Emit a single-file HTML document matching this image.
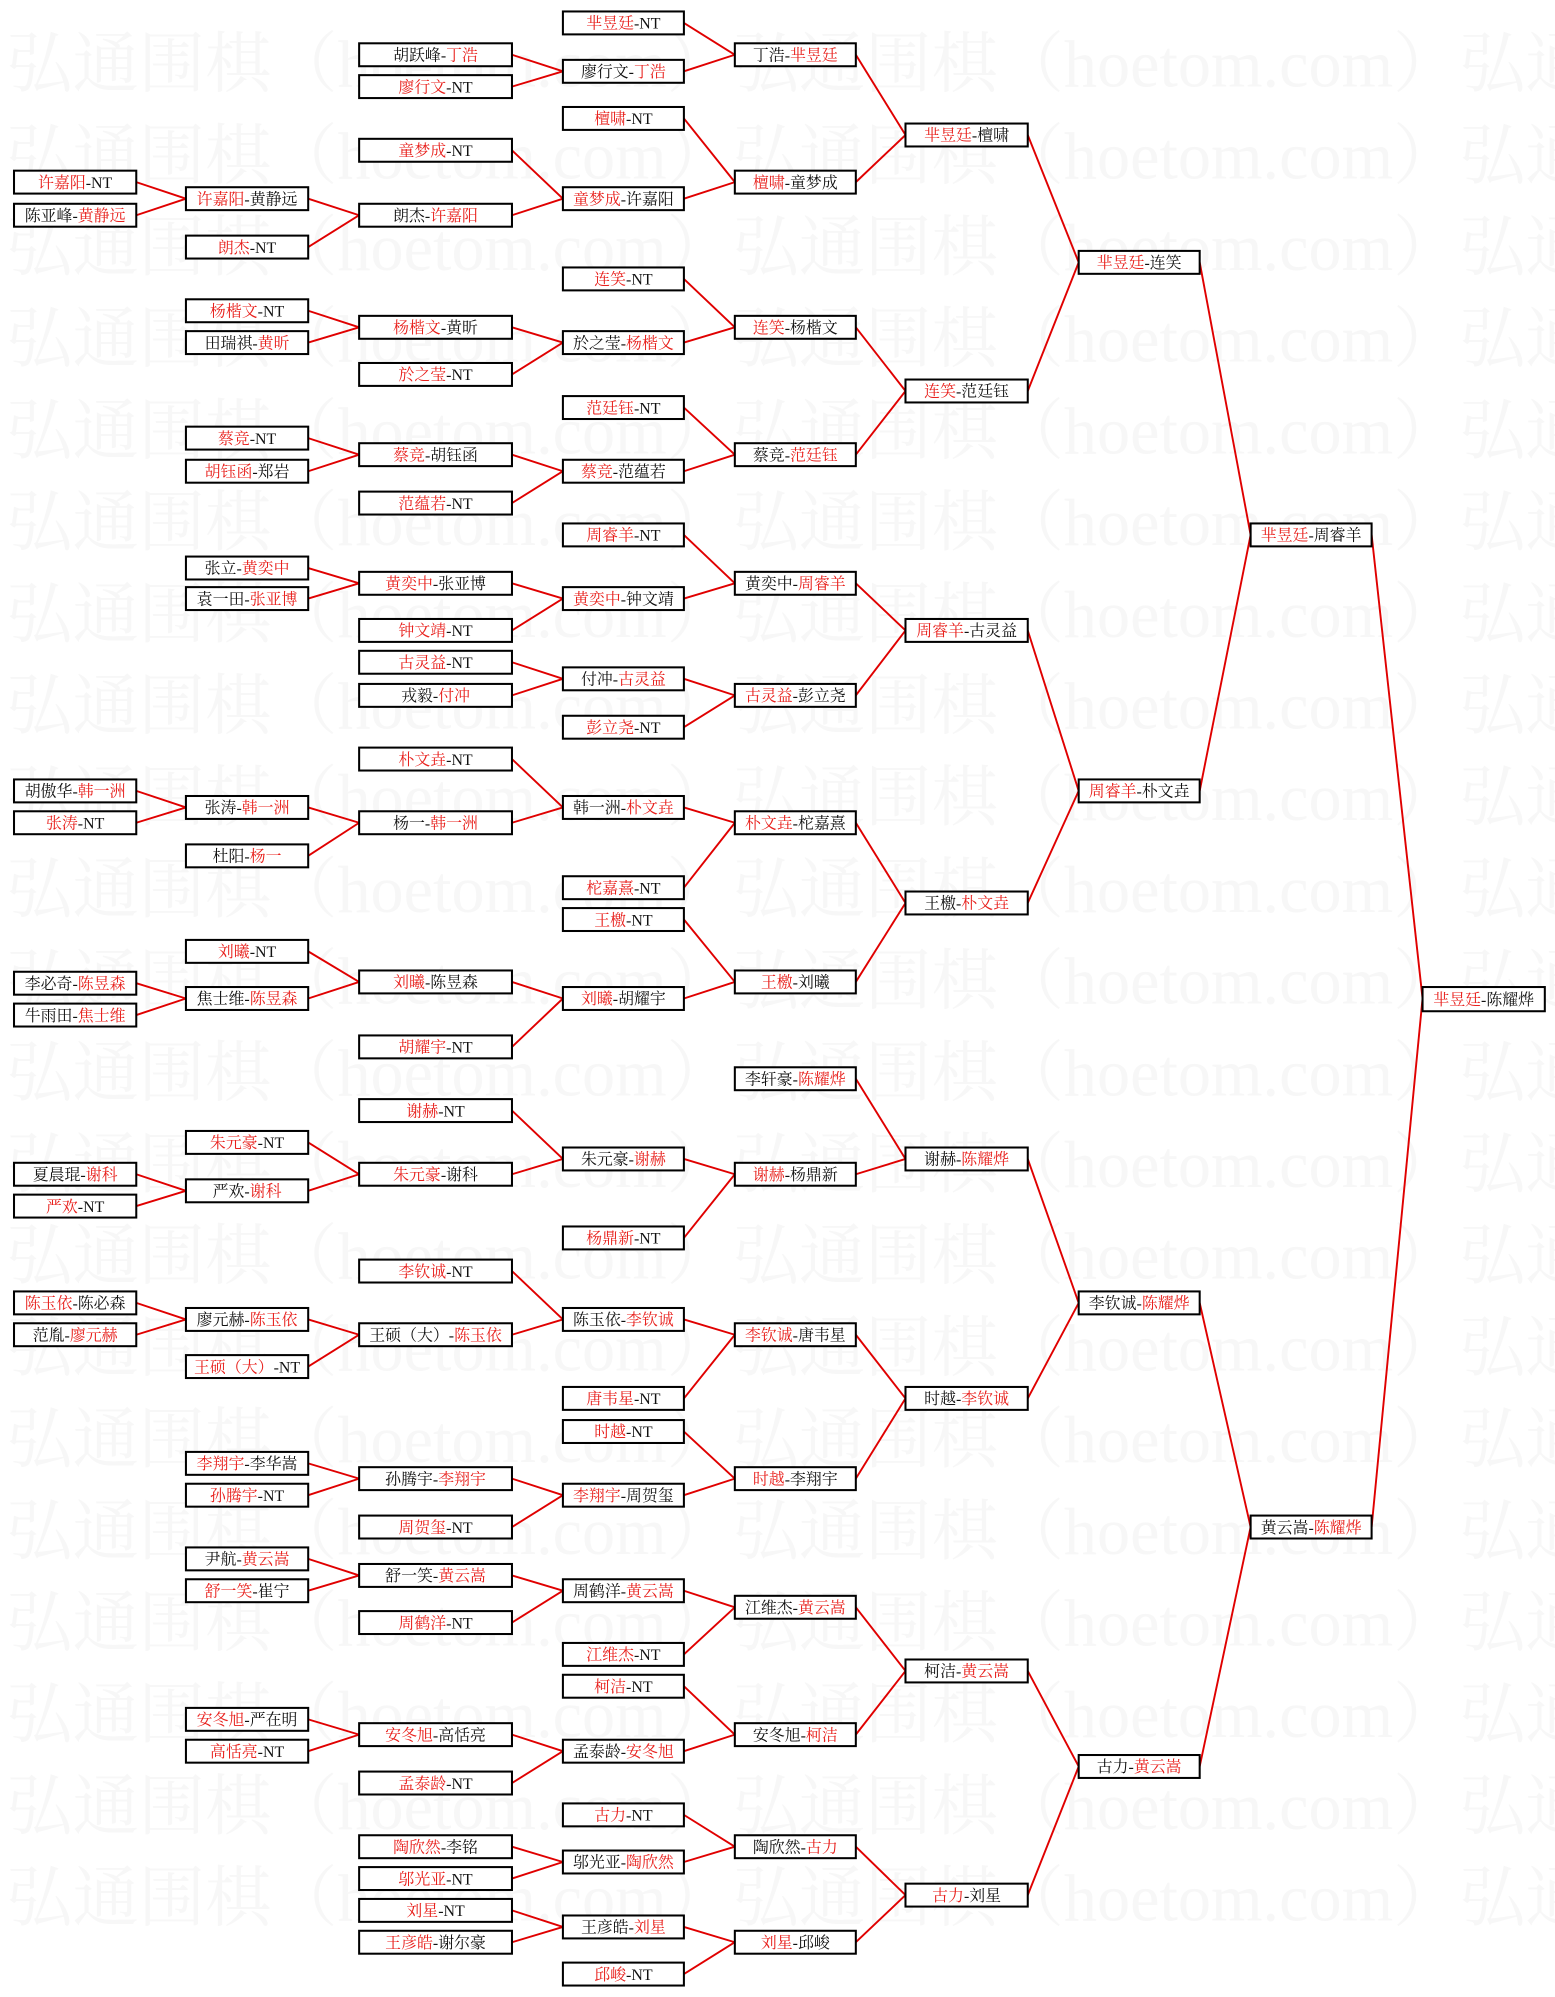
<!DOCTYPE html>
<html><head><meta charset="utf-8"><style>
html,body{margin:0;padding:0;background:#fff;}
svg{display:block;}
.b rect{fill:#fff;stroke:#000;stroke-width:1.6;}
text{font-family:"Liberation Serif","Noto Serif CJK SC","Noto Sans CJK SC",serif;font-size:12.5px;fill:#111;}
.r{fill:#e8201c;}
.wm{font-size:52px;fill:#f7f7f7;font-family:"Liberation Serif","Noto Serif CJK SC",serif;}
line{stroke:#e00000;stroke-width:1.5;}
</style></head><body>
<svg width="1555" height="1997" viewBox="0 0 1221 1568" preserveAspectRatio="none" xmlns="http://www.w3.org/2000/svg">
<g class="wm">
<text class="wm" x="5" y="68">弘通围棋（hoetom.com）弘通围棋（hoetom.com）弘通围棋</text>
<text class="wm" x="5" y="140">弘通围棋（hoetom.com）弘通围棋（hoetom.com）弘通围棋</text>
<text class="wm" x="5" y="212">弘通围棋（hoetom.com）弘通围棋（hoetom.com）弘通围棋</text>
<text class="wm" x="5" y="284">弘通围棋（hoetom.com）弘通围棋（hoetom.com）弘通围棋</text>
<text class="wm" x="5" y="356">弘通围棋（hoetom.com）弘通围棋（hoetom.com）弘通围棋</text>
<text class="wm" x="5" y="428">弘通围棋（hoetom.com）弘通围棋（hoetom.com）弘通围棋</text>
<text class="wm" x="5" y="500">弘通围棋（hoetom.com）弘通围棋（hoetom.com）弘通围棋</text>
<text class="wm" x="5" y="572">弘通围棋（hoetom.com）弘通围棋（hoetom.com）弘通围棋</text>
<text class="wm" x="5" y="644">弘通围棋（hoetom.com）弘通围棋（hoetom.com）弘通围棋</text>
<text class="wm" x="5" y="716">弘通围棋（hoetom.com）弘通围棋（hoetom.com）弘通围棋</text>
<text class="wm" x="5" y="788">弘通围棋（hoetom.com）弘通围棋（hoetom.com）弘通围棋</text>
<text class="wm" x="5" y="860">弘通围棋（hoetom.com）弘通围棋（hoetom.com）弘通围棋</text>
<text class="wm" x="5" y="932">弘通围棋（hoetom.com）弘通围棋（hoetom.com）弘通围棋</text>
<text class="wm" x="5" y="1004">弘通围棋（hoetom.com）弘通围棋（hoetom.com）弘通围棋</text>
<text class="wm" x="5" y="1076">弘通围棋（hoetom.com）弘通围棋（hoetom.com）弘通围棋</text>
<text class="wm" x="5" y="1148">弘通围棋（hoetom.com）弘通围棋（hoetom.com）弘通围棋</text>
<text class="wm" x="5" y="1220">弘通围棋（hoetom.com）弘通围棋（hoetom.com）弘通围棋</text>
<text class="wm" x="5" y="1292">弘通围棋（hoetom.com）弘通围棋（hoetom.com）弘通围棋</text>
<text class="wm" x="5" y="1364">弘通围棋（hoetom.com）弘通围棋（hoetom.com）弘通围棋</text>
<text class="wm" x="5" y="1436">弘通围棋（hoetom.com）弘通围棋（hoetom.com）弘通围棋</text>
<text class="wm" x="5" y="1508">弘通围棋（hoetom.com）弘通围棋（hoetom.com）弘通围棋</text>
</g>
<g>
<line x1="107" y1="143" x2="146" y2="156"/><line x1="107" y1="169" x2="146" y2="156"/>
<line x1="107" y1="621" x2="146" y2="634"/><line x1="107" y1="646" x2="146" y2="634"/>
<line x1="107" y1="772" x2="146" y2="784"/><line x1="107" y1="797" x2="146" y2="784"/>
<line x1="107" y1="922" x2="146" y2="935"/><line x1="107" y1="947" x2="146" y2="935"/>
<line x1="107" y1="1023" x2="146" y2="1036"/><line x1="107" y1="1048" x2="146" y2="1036"/>
<line x1="242" y1="156" x2="282" y2="169"/><line x1="242" y1="194" x2="282" y2="169"/>
<line x1="242" y1="244" x2="282" y2="257"/><line x1="242" y1="269" x2="282" y2="257"/>
<line x1="242" y1="344" x2="282" y2="357"/><line x1="242" y1="370" x2="282" y2="357"/>
<line x1="242" y1="446" x2="282" y2="458"/><line x1="242" y1="470" x2="282" y2="458"/>
<line x1="242" y1="634" x2="282" y2="646"/><line x1="242" y1="672" x2="282" y2="646"/>
<line x1="242" y1="747" x2="282" y2="771"/><line x1="242" y1="784" x2="282" y2="771"/>
<line x1="242" y1="897" x2="282" y2="922"/><line x1="242" y1="935" x2="282" y2="922"/>
<line x1="242" y1="1036" x2="282" y2="1048"/><line x1="242" y1="1073" x2="282" y2="1048"/>
<line x1="242" y1="1149" x2="282" y2="1161"/><line x1="242" y1="1174" x2="282" y2="1161"/>
<line x1="242" y1="1224" x2="282" y2="1237"/><line x1="242" y1="1249" x2="282" y2="1237"/>
<line x1="242" y1="1350" x2="282" y2="1362"/><line x1="242" y1="1375" x2="282" y2="1362"/>
<line x1="402" y1="43" x2="442" y2="56"/><line x1="402" y1="68" x2="442" y2="56"/>
<line x1="402" y1="118" x2="442" y2="156"/><line x1="402" y1="169" x2="442" y2="156"/>
<line x1="402" y1="257" x2="442" y2="269"/><line x1="402" y1="294" x2="442" y2="269"/>
<line x1="402" y1="357" x2="442" y2="370"/><line x1="402" y1="395" x2="442" y2="370"/>
<line x1="402" y1="458" x2="442" y2="470"/><line x1="402" y1="495" x2="442" y2="470"/>
<line x1="402" y1="520" x2="442" y2="533"/><line x1="402" y1="546" x2="442" y2="533"/>
<line x1="402" y1="596" x2="442" y2="634"/><line x1="402" y1="646" x2="442" y2="634"/>
<line x1="402" y1="771" x2="442" y2="784"/><line x1="402" y1="822" x2="442" y2="784"/>
<line x1="402" y1="872" x2="442" y2="910"/><line x1="402" y1="922" x2="442" y2="910"/>
<line x1="402" y1="998" x2="442" y2="1036"/><line x1="402" y1="1048" x2="442" y2="1036"/>
<line x1="402" y1="1161" x2="442" y2="1174"/><line x1="402" y1="1199" x2="442" y2="1174"/>
<line x1="402" y1="1237" x2="442" y2="1249"/><line x1="402" y1="1274" x2="442" y2="1249"/>
<line x1="402" y1="1362" x2="442" y2="1375"/><line x1="402" y1="1400" x2="442" y2="1375"/>
<line x1="402" y1="1450" x2="442" y2="1462"/><line x1="402" y1="1475" x2="442" y2="1462"/>
<line x1="402" y1="1500" x2="442" y2="1513"/><line x1="402" y1="1525" x2="442" y2="1513"/>
<line x1="537" y1="18" x2="577" y2="43"/><line x1="537" y1="56" x2="577" y2="43"/>
<line x1="537" y1="93" x2="577" y2="143"/><line x1="537" y1="156" x2="577" y2="143"/>
<line x1="537" y1="219" x2="577" y2="257"/><line x1="537" y1="269" x2="577" y2="257"/>
<line x1="537" y1="320" x2="577" y2="357"/><line x1="537" y1="370" x2="577" y2="357"/>
<line x1="537" y1="420" x2="577" y2="458"/><line x1="537" y1="470" x2="577" y2="458"/>
<line x1="537" y1="533" x2="577" y2="546"/><line x1="537" y1="571" x2="577" y2="546"/>
<line x1="537" y1="634" x2="577" y2="646"/><line x1="537" y1="697" x2="577" y2="646"/>
<line x1="537" y1="722" x2="577" y2="771"/><line x1="537" y1="784" x2="577" y2="771"/>
<line x1="537" y1="910" x2="577" y2="922"/><line x1="537" y1="972" x2="577" y2="922"/>
<line x1="537" y1="1036" x2="577" y2="1048"/><line x1="537" y1="1098" x2="577" y2="1048"/>
<line x1="537" y1="1124" x2="577" y2="1161"/><line x1="537" y1="1174" x2="577" y2="1161"/>
<line x1="537" y1="1249" x2="577" y2="1262"/><line x1="537" y1="1299" x2="577" y2="1262"/>
<line x1="537" y1="1324" x2="577" y2="1362"/><line x1="537" y1="1375" x2="577" y2="1362"/>
<line x1="537" y1="1425" x2="577" y2="1450"/><line x1="537" y1="1462" x2="577" y2="1450"/>
<line x1="537" y1="1513" x2="577" y2="1525"/><line x1="537" y1="1550" x2="577" y2="1525"/>
<line x1="672" y1="43" x2="711" y2="106"/><line x1="672" y1="143" x2="711" y2="106"/>
<line x1="672" y1="257" x2="711" y2="307"/><line x1="672" y1="357" x2="711" y2="307"/>
<line x1="672" y1="458" x2="711" y2="495"/><line x1="672" y1="546" x2="711" y2="495"/>
<line x1="672" y1="646" x2="711" y2="709"/><line x1="672" y1="771" x2="711" y2="709"/>
<line x1="672" y1="847" x2="711" y2="910"/><line x1="672" y1="922" x2="711" y2="910"/>
<line x1="672" y1="1048" x2="711" y2="1098"/><line x1="672" y1="1161" x2="711" y2="1098"/>
<line x1="672" y1="1262" x2="711" y2="1312"/><line x1="672" y1="1362" x2="711" y2="1312"/>
<line x1="672" y1="1450" x2="711" y2="1488"/><line x1="672" y1="1525" x2="711" y2="1488"/>
<line x1="807" y1="106" x2="847" y2="206"/><line x1="807" y1="307" x2="847" y2="206"/>
<line x1="807" y1="495" x2="847" y2="621"/><line x1="807" y1="709" x2="847" y2="621"/>
<line x1="807" y1="910" x2="847" y2="1023"/><line x1="807" y1="1098" x2="847" y2="1023"/>
<line x1="807" y1="1312" x2="847" y2="1387"/><line x1="807" y1="1488" x2="847" y2="1387"/>
<line x1="942" y1="206" x2="982" y2="420"/><line x1="942" y1="621" x2="982" y2="420"/>
<line x1="942" y1="1023" x2="982" y2="1199"/><line x1="942" y1="1387" x2="982" y2="1199"/>
<line x1="1077" y1="420" x2="1117" y2="784"/><line x1="1077" y1="1199" x2="1117" y2="784"/>
</g>

<g class="b">
<rect x="11" y="134" width="96" height="18"/><text x="59" y="147.5" text-anchor="middle"><tspan class="r">许嘉阳</tspan>-NT</text>
<rect x="11" y="160" width="96" height="18"/><text x="59" y="173.5" text-anchor="middle">陈亚峰-<tspan class="r">黄静远</tspan></text>
<rect x="11" y="612" width="96" height="18"/><text x="59" y="625.5" text-anchor="middle">胡傲华-<tspan class="r">韩一洲</tspan></text>
<rect x="11" y="637" width="96" height="18"/><text x="59" y="650.5" text-anchor="middle"><tspan class="r">张涛</tspan>-NT</text>
<rect x="11" y="763" width="96" height="18"/><text x="59" y="776.5" text-anchor="middle">李必奇-<tspan class="r">陈昱森</tspan></text>
<rect x="11" y="788" width="96" height="18"/><text x="59" y="801.5" text-anchor="middle">牛雨田-<tspan class="r">焦士维</tspan></text>
<rect x="11" y="913" width="96" height="18"/><text x="59" y="926.5" text-anchor="middle">夏晨琨-<tspan class="r">谢科</tspan></text>
<rect x="11" y="938" width="96" height="18"/><text x="59" y="951.5" text-anchor="middle"><tspan class="r">严欢</tspan>-NT</text>
<rect x="11" y="1014" width="96" height="18"/><text x="59" y="1027.5" text-anchor="middle"><tspan class="r">陈玉依</tspan>-陈必森</text>
<rect x="11" y="1039" width="96" height="18"/><text x="59" y="1052.5" text-anchor="middle">范胤-<tspan class="r">廖元赫</tspan></text>
</g>

<g class="b">
<rect x="146" y="147" width="96" height="18"/><text x="194" y="160.5" text-anchor="middle"><tspan class="r">许嘉阳</tspan>-黄静远</text>
<rect x="146" y="185" width="96" height="18"/><text x="194" y="198.5" text-anchor="middle"><tspan class="r">朗杰</tspan>-NT</text>
<rect x="146" y="235" width="96" height="18"/><text x="194" y="248.5" text-anchor="middle"><tspan class="r">杨楷文</tspan>-NT</text>
<rect x="146" y="260" width="96" height="18"/><text x="194" y="273.5" text-anchor="middle">田瑞祺-<tspan class="r">黄昕</tspan></text>
<rect x="146" y="335" width="96" height="18"/><text x="194" y="348.5" text-anchor="middle"><tspan class="r">蔡竞</tspan>-NT</text>
<rect x="146" y="361" width="96" height="18"/><text x="194" y="374.5" text-anchor="middle"><tspan class="r">胡钰函</tspan>-郑岩</text>
<rect x="146" y="437" width="96" height="18"/><text x="194" y="450.5" text-anchor="middle">张立-<tspan class="r">黄奕中</tspan></text>
<rect x="146" y="461" width="96" height="18"/><text x="194" y="474.5" text-anchor="middle">袁一田-<tspan class="r">张亚博</tspan></text>
<rect x="146" y="625" width="96" height="18"/><text x="194" y="638.5" text-anchor="middle">张涛-<tspan class="r">韩一洲</tspan></text>
<rect x="146" y="663" width="96" height="18"/><text x="194" y="676.5" text-anchor="middle">杜阳-<tspan class="r">杨一</tspan></text>
<rect x="146" y="738" width="96" height="18"/><text x="194" y="751.5" text-anchor="middle"><tspan class="r">刘曦</tspan>-NT</text>
<rect x="146" y="775" width="96" height="18"/><text x="194" y="788.5" text-anchor="middle">焦士维-<tspan class="r">陈昱森</tspan></text>
<rect x="146" y="888" width="96" height="18"/><text x="194" y="901.5" text-anchor="middle"><tspan class="r">朱元豪</tspan>-NT</text>
<rect x="146" y="926" width="96" height="18"/><text x="194" y="939.5" text-anchor="middle">严欢-<tspan class="r">谢科</tspan></text>
<rect x="146" y="1027" width="96" height="18"/><text x="194" y="1040.5" text-anchor="middle">廖元赫-<tspan class="r">陈玉依</tspan></text>
<rect x="146" y="1064" width="96" height="18"/><text x="194" y="1077.5" text-anchor="middle"><tspan class="r">王硕（大）</tspan>-NT</text>
<rect x="146" y="1140" width="96" height="18"/><text x="194" y="1153.5" text-anchor="middle"><tspan class="r">李翔宇</tspan>-李华嵩</text>
<rect x="146" y="1165" width="96" height="18"/><text x="194" y="1178.5" text-anchor="middle"><tspan class="r">孙腾宇</tspan>-NT</text>
<rect x="146" y="1215" width="96" height="18"/><text x="194" y="1228.5" text-anchor="middle">尹航-<tspan class="r">黄云嵩</tspan></text>
<rect x="146" y="1240" width="96" height="18"/><text x="194" y="1253.5" text-anchor="middle"><tspan class="r">舒一笑</tspan>-崔宁</text>
<rect x="146" y="1341" width="96" height="18"/><text x="194" y="1354.5" text-anchor="middle"><tspan class="r">安冬旭</tspan>-严在明</text>
<rect x="146" y="1366" width="96" height="18"/><text x="194" y="1379.5" text-anchor="middle"><tspan class="r">高恬亮</tspan>-NT</text>
</g>

<g class="b">
<rect x="282" y="34" width="120" height="18"/><text x="342" y="47.5" text-anchor="middle">胡跃峰-<tspan class="r">丁浩</tspan></text>
<rect x="282" y="59" width="120" height="18"/><text x="342" y="72.5" text-anchor="middle"><tspan class="r">廖行文</tspan>-NT</text>
<rect x="282" y="109" width="120" height="18"/><text x="342" y="122.5" text-anchor="middle"><tspan class="r">童梦成</tspan>-NT</text>
<rect x="282" y="160" width="120" height="18"/><text x="342" y="173.5" text-anchor="middle">朗杰-<tspan class="r">许嘉阳</tspan></text>
<rect x="282" y="248" width="120" height="18"/><text x="342" y="261.5" text-anchor="middle"><tspan class="r">杨楷文</tspan>-黄昕</text>
<rect x="282" y="285" width="120" height="18"/><text x="342" y="298.5" text-anchor="middle"><tspan class="r">於之莹</tspan>-NT</text>
<rect x="282" y="348" width="120" height="18"/><text x="342" y="361.5" text-anchor="middle"><tspan class="r">蔡竞</tspan>-胡钰函</text>
<rect x="282" y="386" width="120" height="18"/><text x="342" y="399.5" text-anchor="middle"><tspan class="r">范蕴若</tspan>-NT</text>
<rect x="282" y="449" width="120" height="18"/><text x="342" y="462.5" text-anchor="middle"><tspan class="r">黄奕中</tspan>-张亚博</text>
<rect x="282" y="486" width="120" height="18"/><text x="342" y="499.5" text-anchor="middle"><tspan class="r">钟文靖</tspan>-NT</text>
<rect x="282" y="511" width="120" height="18"/><text x="342" y="524.5" text-anchor="middle"><tspan class="r">古灵益</tspan>-NT</text>
<rect x="282" y="537" width="120" height="18"/><text x="342" y="550.5" text-anchor="middle">戎毅-<tspan class="r">付冲</tspan></text>
<rect x="282" y="587" width="120" height="18"/><text x="342" y="600.5" text-anchor="middle"><tspan class="r">朴文垚</tspan>-NT</text>
<rect x="282" y="637" width="120" height="18"/><text x="342" y="650.5" text-anchor="middle">杨一-<tspan class="r">韩一洲</tspan></text>
<rect x="282" y="762" width="120" height="18"/><text x="342" y="775.5" text-anchor="middle"><tspan class="r">刘曦</tspan>-陈昱森</text>
<rect x="282" y="813" width="120" height="18"/><text x="342" y="826.5" text-anchor="middle"><tspan class="r">胡耀宇</tspan>-NT</text>
<rect x="282" y="863" width="120" height="18"/><text x="342" y="876.5" text-anchor="middle"><tspan class="r">谢赫</tspan>-NT</text>
<rect x="282" y="913" width="120" height="18"/><text x="342" y="926.5" text-anchor="middle"><tspan class="r">朱元豪</tspan>-谢科</text>
<rect x="282" y="989" width="120" height="18"/><text x="342" y="1002.5" text-anchor="middle"><tspan class="r">李钦诚</tspan>-NT</text>
<rect x="282" y="1039" width="120" height="18"/><text x="342" y="1052.5" text-anchor="middle">王硕（大）-<tspan class="r">陈玉依</tspan></text>
<rect x="282" y="1152" width="120" height="18"/><text x="342" y="1165.5" text-anchor="middle">孙腾宇-<tspan class="r">李翔宇</tspan></text>
<rect x="282" y="1190" width="120" height="18"/><text x="342" y="1203.5" text-anchor="middle"><tspan class="r">周贺玺</tspan>-NT</text>
<rect x="282" y="1228" width="120" height="18"/><text x="342" y="1241.5" text-anchor="middle">舒一笑-<tspan class="r">黄云嵩</tspan></text>
<rect x="282" y="1265" width="120" height="18"/><text x="342" y="1278.5" text-anchor="middle"><tspan class="r">周鹤洋</tspan>-NT</text>
<rect x="282" y="1353" width="120" height="18"/><text x="342" y="1366.5" text-anchor="middle"><tspan class="r">安冬旭</tspan>-高恬亮</text>
<rect x="282" y="1391" width="120" height="18"/><text x="342" y="1404.5" text-anchor="middle"><tspan class="r">孟泰龄</tspan>-NT</text>
<rect x="282" y="1441" width="120" height="18"/><text x="342" y="1454.5" text-anchor="middle"><tspan class="r">陶欣然</tspan>-李铭</text>
<rect x="282" y="1466" width="120" height="18"/><text x="342" y="1479.5" text-anchor="middle"><tspan class="r">邬光亚</tspan>-NT</text>
<rect x="282" y="1491" width="120" height="18"/><text x="342" y="1504.5" text-anchor="middle"><tspan class="r">刘星</tspan>-NT</text>
<rect x="282" y="1516" width="120" height="18"/><text x="342" y="1529.5" text-anchor="middle"><tspan class="r">王彦皓</tspan>-谢尔豪</text>
</g>

<g class="b">
<rect x="442" y="9" width="95" height="18"/><text x="489.5" y="22.5" text-anchor="middle"><tspan class="r">芈昱廷</tspan>-NT</text>
<rect x="442" y="47" width="95" height="18"/><text x="489.5" y="60.5" text-anchor="middle">廖行文-<tspan class="r">丁浩</tspan></text>
<rect x="442" y="84" width="95" height="18"/><text x="489.5" y="97.5" text-anchor="middle"><tspan class="r">檀啸</tspan>-NT</text>
<rect x="442" y="147" width="95" height="18"/><text x="489.5" y="160.5" text-anchor="middle"><tspan class="r">童梦成</tspan>-许嘉阳</text>
<rect x="442" y="210" width="95" height="18"/><text x="489.5" y="223.5" text-anchor="middle"><tspan class="r">连笑</tspan>-NT</text>
<rect x="442" y="260" width="95" height="18"/><text x="489.5" y="273.5" text-anchor="middle">於之莹-<tspan class="r">杨楷文</tspan></text>
<rect x="442" y="311" width="95" height="18"/><text x="489.5" y="324.5" text-anchor="middle"><tspan class="r">范廷钰</tspan>-NT</text>
<rect x="442" y="361" width="95" height="18"/><text x="489.5" y="374.5" text-anchor="middle"><tspan class="r">蔡竞</tspan>-范蕴若</text>
<rect x="442" y="411" width="95" height="18"/><text x="489.5" y="424.5" text-anchor="middle"><tspan class="r">周睿羊</tspan>-NT</text>
<rect x="442" y="461" width="95" height="18"/><text x="489.5" y="474.5" text-anchor="middle"><tspan class="r">黄奕中</tspan>-钟文靖</text>
<rect x="442" y="524" width="95" height="18"/><text x="489.5" y="537.5" text-anchor="middle">付冲-<tspan class="r">古灵益</tspan></text>
<rect x="442" y="562" width="95" height="18"/><text x="489.5" y="575.5" text-anchor="middle"><tspan class="r">彭立尧</tspan>-NT</text>
<rect x="442" y="625" width="95" height="18"/><text x="489.5" y="638.5" text-anchor="middle">韩一洲-<tspan class="r">朴文垚</tspan></text>
<rect x="442" y="688" width="95" height="18"/><text x="489.5" y="701.5" text-anchor="middle"><tspan class="r">柁嘉熹</tspan>-NT</text>
<rect x="442" y="713" width="95" height="18"/><text x="489.5" y="726.5" text-anchor="middle"><tspan class="r">王檄</tspan>-NT</text>
<rect x="442" y="775" width="95" height="18"/><text x="489.5" y="788.5" text-anchor="middle"><tspan class="r">刘曦</tspan>-胡耀宇</text>
<rect x="442" y="901" width="95" height="18"/><text x="489.5" y="914.5" text-anchor="middle">朱元豪-<tspan class="r">谢赫</tspan></text>
<rect x="442" y="963" width="95" height="18"/><text x="489.5" y="976.5" text-anchor="middle"><tspan class="r">杨鼎新</tspan>-NT</text>
<rect x="442" y="1027" width="95" height="18"/><text x="489.5" y="1040.5" text-anchor="middle">陈玉依-<tspan class="r">李钦诚</tspan></text>
<rect x="442" y="1089" width="95" height="18"/><text x="489.5" y="1102.5" text-anchor="middle"><tspan class="r">唐韦星</tspan>-NT</text>
<rect x="442" y="1115" width="95" height="18"/><text x="489.5" y="1128.5" text-anchor="middle"><tspan class="r">时越</tspan>-NT</text>
<rect x="442" y="1165" width="95" height="18"/><text x="489.5" y="1178.5" text-anchor="middle"><tspan class="r">李翔宇</tspan>-周贺玺</text>
<rect x="442" y="1240" width="95" height="18"/><text x="489.5" y="1253.5" text-anchor="middle">周鹤洋-<tspan class="r">黄云嵩</tspan></text>
<rect x="442" y="1290" width="95" height="18"/><text x="489.5" y="1303.5" text-anchor="middle"><tspan class="r">江维杰</tspan>-NT</text>
<rect x="442" y="1315" width="95" height="18"/><text x="489.5" y="1328.5" text-anchor="middle"><tspan class="r">柯洁</tspan>-NT</text>
<rect x="442" y="1366" width="95" height="18"/><text x="489.5" y="1379.5" text-anchor="middle">孟泰龄-<tspan class="r">安冬旭</tspan></text>
<rect x="442" y="1416" width="95" height="18"/><text x="489.5" y="1429.5" text-anchor="middle"><tspan class="r">古力</tspan>-NT</text>
<rect x="442" y="1453" width="95" height="18"/><text x="489.5" y="1466.5" text-anchor="middle">邬光亚-<tspan class="r">陶欣然</tspan></text>
<rect x="442" y="1504" width="95" height="18"/><text x="489.5" y="1517.5" text-anchor="middle">王彦皓-<tspan class="r">刘星</tspan></text>
<rect x="442" y="1541" width="95" height="18"/><text x="489.5" y="1554.5" text-anchor="middle"><tspan class="r">邱峻</tspan>-NT</text>
</g>

<g class="b">
<rect x="577" y="34" width="95" height="18"/><text x="624.5" y="47.5" text-anchor="middle">丁浩-<tspan class="r">芈昱廷</tspan></text>
<rect x="577" y="134" width="95" height="18"/><text x="624.5" y="147.5" text-anchor="middle"><tspan class="r">檀啸</tspan>-童梦成</text>
<rect x="577" y="248" width="95" height="18"/><text x="624.5" y="261.5" text-anchor="middle"><tspan class="r">连笑</tspan>-杨楷文</text>
<rect x="577" y="348" width="95" height="18"/><text x="624.5" y="361.5" text-anchor="middle">蔡竞-<tspan class="r">范廷钰</tspan></text>
<rect x="577" y="449" width="95" height="18"/><text x="624.5" y="462.5" text-anchor="middle">黄奕中-<tspan class="r">周睿羊</tspan></text>
<rect x="577" y="537" width="95" height="18"/><text x="624.5" y="550.5" text-anchor="middle"><tspan class="r">古灵益</tspan>-彭立尧</text>
<rect x="577" y="637" width="95" height="18"/><text x="624.5" y="650.5" text-anchor="middle"><tspan class="r">朴文垚</tspan>-柁嘉熹</text>
<rect x="577" y="762" width="95" height="18"/><text x="624.5" y="775.5" text-anchor="middle"><tspan class="r">王檄</tspan>-刘曦</text>
<rect x="577" y="838" width="95" height="18"/><text x="624.5" y="851.5" text-anchor="middle">李轩豪-<tspan class="r">陈耀烨</tspan></text>
<rect x="577" y="913" width="95" height="18"/><text x="624.5" y="926.5" text-anchor="middle"><tspan class="r">谢赫</tspan>-杨鼎新</text>
<rect x="577" y="1039" width="95" height="18"/><text x="624.5" y="1052.5" text-anchor="middle"><tspan class="r">李钦诚</tspan>-唐韦星</text>
<rect x="577" y="1152" width="95" height="18"/><text x="624.5" y="1165.5" text-anchor="middle"><tspan class="r">时越</tspan>-李翔宇</text>
<rect x="577" y="1253" width="95" height="18"/><text x="624.5" y="1266.5" text-anchor="middle">江维杰-<tspan class="r">黄云嵩</tspan></text>
<rect x="577" y="1353" width="95" height="18"/><text x="624.5" y="1366.5" text-anchor="middle">安冬旭-<tspan class="r">柯洁</tspan></text>
<rect x="577" y="1441" width="95" height="18"/><text x="624.5" y="1454.5" text-anchor="middle">陶欣然-<tspan class="r">古力</tspan></text>
<rect x="577" y="1516" width="95" height="18"/><text x="624.5" y="1529.5" text-anchor="middle"><tspan class="r">刘星</tspan>-邱峻</text>
</g>

<g class="b">
<rect x="711" y="97" width="96" height="18"/><text x="759" y="110.5" text-anchor="middle"><tspan class="r">芈昱廷</tspan>-檀啸</text>
<rect x="711" y="298" width="96" height="18"/><text x="759" y="311.5" text-anchor="middle"><tspan class="r">连笑</tspan>-范廷钰</text>
<rect x="711" y="486" width="96" height="18"/><text x="759" y="499.5" text-anchor="middle"><tspan class="r">周睿羊</tspan>-古灵益</text>
<rect x="711" y="700" width="96" height="18"/><text x="759" y="713.5" text-anchor="middle">王檄-<tspan class="r">朴文垚</tspan></text>
<rect x="711" y="901" width="96" height="18"/><text x="759" y="914.5" text-anchor="middle">谢赫-<tspan class="r">陈耀烨</tspan></text>
<rect x="711" y="1089" width="96" height="18"/><text x="759" y="1102.5" text-anchor="middle">时越-<tspan class="r">李钦诚</tspan></text>
<rect x="711" y="1303" width="96" height="18"/><text x="759" y="1316.5" text-anchor="middle">柯洁-<tspan class="r">黄云嵩</tspan></text>
<rect x="711" y="1479" width="96" height="18"/><text x="759" y="1492.5" text-anchor="middle"><tspan class="r">古力</tspan>-刘星</text>
</g>

<g class="b">
<rect x="847" y="197" width="95" height="18"/><text x="894.5" y="210.5" text-anchor="middle"><tspan class="r">芈昱廷</tspan>-连笑</text>
<rect x="847" y="612" width="95" height="18"/><text x="894.5" y="625.5" text-anchor="middle"><tspan class="r">周睿羊</tspan>-朴文垚</text>
<rect x="847" y="1014" width="95" height="18"/><text x="894.5" y="1027.5" text-anchor="middle">李钦诚-<tspan class="r">陈耀烨</tspan></text>
<rect x="847" y="1378" width="95" height="18"/><text x="894.5" y="1391.5" text-anchor="middle">古力-<tspan class="r">黄云嵩</tspan></text>
</g>

<g class="b">
<rect x="982" y="411" width="95" height="18"/><text x="1029.5" y="424.5" text-anchor="middle"><tspan class="r">芈昱廷</tspan>-周睿羊</text>
<rect x="982" y="1190" width="95" height="18"/><text x="1029.5" y="1203.5" text-anchor="middle">黄云嵩-<tspan class="r">陈耀烨</tspan></text>
</g>

<g class="b">
<rect x="1117" y="775" width="96" height="19"/><text x="1165" y="789" text-anchor="middle"><tspan class="r">芈昱廷</tspan>-陈耀烨</text>
</g>
</svg>
</body></html>
